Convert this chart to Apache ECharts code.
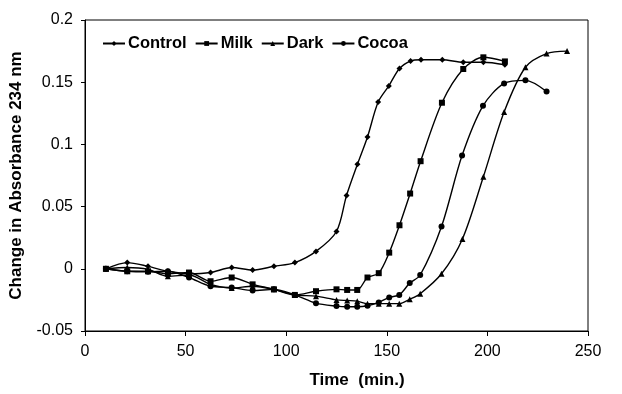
<!DOCTYPE html>
<html>
<head>
<meta charset="utf-8">
<script src="https://cdn.jsdelivr.net/npm/echarts@6/dist/echarts.min.js"></script>
<style>
  html, body { margin: 0; padding: 0; background: #fff; }
  #chart { width: 622px; height: 394px; }
</style>
</head>
<body>
<div id="chart"></div>
<script>
// times (min.) and change in absorbance
const controlTime = [10.4, 21, 31.3, 41.2, 51.7, 62.4, 72.9, 83.3, 93.9, 104.3, 114.8, 125, 130, 135.4, 140.4, 145.7, 151, 156.3, 161.8, 167, 177.6, 188, 198, 208.7]
const controlAbs = [0, 0.005, 0.002, -0.002, -0.004, -0.003, 0.001, -0.001, 0.002, 0.005, 0.014, 0.030, 0.059, 0.084, 0.106, 0.134, 0.147, 0.161, 0.167, 0.168, 0.168, 0.166, 0.166, 0.164]

const milkTime = [10.4, 21, 31.3, 41.2, 51.7, 62.4, 72.9, 83.3, 93.9, 104.3, 114.8, 125, 130.3, 135.3, 140.4, 146, 151.2, 156.3, 161.6, 166.8, 177.4, 188, 198, 208.7]
const milkAbs = [0, -0.002, -0.002, -0.004, -0.003, -0.010, -0.007, -0.0125, -0.0165, -0.021, -0.018, -0.0165, -0.017, -0.017, -0.007, -0.0035, 0.013, 0.035, 0.0605, 0.0865, 0.1335, 0.1606, 0.170, 0.1667]

const darkTime = [10.4, 21, 31.3, 41.2, 51.7, 62.4, 72.9, 83.3, 93.9, 104.3, 114.8, 125, 130.3, 135.3, 140.4, 146, 151.2, 156.2, 161.4, 166.6, 177.2, 187.6, 198, 208.3, 218.9, 229.4, 239.6]
const darkAbs = [0, 0.001, -0.0005, -0.006, -0.005, -0.0125, -0.0155, -0.014, -0.0165, -0.021, -0.022, -0.025, -0.0255, -0.026, -0.028, -0.028, -0.028, -0.028, -0.0245, -0.020, -0.004, 0.024, 0.074, 0.126, 0.162, 0.173, 0.175]

const cocoaTime = [10.4, 21, 31.3, 41.2, 51.7, 62.4, 72.9, 83.3, 93.9, 104.3, 114.8, 125, 130.3, 135.3, 140.4, 146, 151.2, 156.2, 161.4, 166.6, 177.2, 187.4, 197.8, 208.3, 218.9, 229.4]
const cocoaAbs = [0, -0.002, -0.0024, -0.002, -0.007, -0.014, -0.015, -0.0175, -0.0165, -0.021, -0.0276, -0.030, -0.0305, -0.0305, -0.0297, -0.027, -0.023, -0.021, -0.0115, -0.005, 0.034, 0.091, 0.131, 0.149, 0.1515, 0.1425]

const seriesNames = ['Control', 'Milk', 'Dark', 'Cocoa']
const symbols = ['diamond', 'rect', 'triangle', 'circle']
const symbolSizes = [6, 6, 6, 6]
const times = [controlTime, milkTime, darkTime, cocoaTime]
const values = [controlAbs, milkAbs, darkAbs, cocoaAbs]

const font = 'Liberation Sans, Arial, sans-serif'

let myChart = echarts.init(document.getElementById('chart'))

let series = seriesNames.map((name, i) => {
  return {
    name: name,
    type: 'line',
    smooth: 0.3,
    symbol: symbols[i],
    symbolSize: symbolSizes[i],
    showAllSymbol: true,
    itemStyle: { color: '#000' },
    lineStyle: { color: '#000', width: 1.4 },
    data: times[i].map((t, j) => [t, values[i][j]]),
  }
})

myChart.setOption({
  animation: false,
  grid: {
    left: 85,
    right: 34,
    top: 20,
    bottom: 60,
    show: true,
    borderColor: '#000',
    borderWidth: 1,
  },
  legend: {
    left: 97,
    top: 30,
    itemWidth: 22,
    itemHeight: 6,
    itemGap: 8,
    textStyle: {
      color: '#000',
      fontFamily: font,
      fontWeight: 'bold',
      fontSize: 16.5,
      padding: [0, 0, 0, -2],
    },
    data: seriesNames,
  },
  xAxis: {
    type: 'value',
    min: 0,
    max: 250,
    interval: 50,
    name: 'Time  (min.)',
    nameLocation: 'middle',
    nameGap: 41,
    nameTextStyle: {
      color: '#000',
      fontFamily: font,
      fontWeight: 'bold',
      fontSize: 17,
      padding: [0, 0, 0, 41],
    },
    axisLine: { onZero: false, lineStyle: { color: '#000' } },
    axisTick: { show: true, length: 5, lineStyle: { color: '#000' } },
    axisLabel: { color: '#000', fontFamily: font, fontSize: 16, margin: 13 },
    splitLine: { show: false },
  },
  yAxis: {
    type: 'value',
    min: -0.05,
    max: 0.2,
    interval: 0.05,
    name: 'Change in Absorbance 234 nm',
    nameLocation: 'middle',
    nameGap: 60,
    nameTextStyle: {
      color: '#000',
      fontFamily: font,
      fontWeight: 'bold',
      fontSize: 17,
    },
    axisLine: { show: true, lineStyle: { color: '#000' } },
    axisTick: { show: true, length: 4, lineStyle: { color: '#000' } },
    axisLabel: { color: '#000', fontFamily: font, fontSize: 16, margin: 12 },
    splitLine: { show: false },
  },
  series: series,
})
</script>
</body>
</html>
